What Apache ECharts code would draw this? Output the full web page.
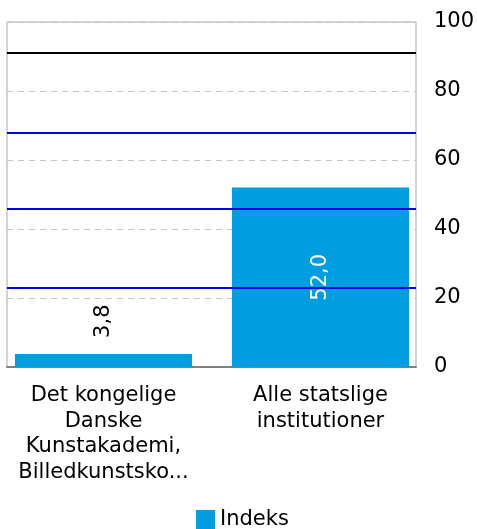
<!DOCTYPE html>
<html>
<head>
<meta charset="utf-8">
<script src="https://cdn.jsdelivr.net/npm/echarts@6/dist/echarts.min.js"></script>
<style>
  html, body { margin: 0; padding: 0; background: #fff; }
  #chart { width: 477px; height: 529px; }
</style>
</head>
<body>
<div id="chart"></div>
<script>
var categories = ['Det kongelige Danske Kunstakademi, Billedkunstskolerne', 'Alle statslige institutioner'];
var indeksValues = [3.8, 52.0];
var blueLines = [23, 46, 68];
var blackLine = [91];
var yTicks = [0, 20, 40, 60, 80, 100];

// wrap a category name into short lines, max 4 lines
function wrapLabel(text) {
  var words = text.split(' ');
  var lines = [];
  var cur = '';
  words.forEach(function(w) {
    if (cur && (cur + ' ' + w).length > 14) {
      lines.push(cur);
      cur = w;
    } else {
      cur = cur ? cur + ' ' + w : w;
    }
  });
  if (cur) lines.push(cur);
  lines = lines.slice(0, 4);
  lines = lines.map(function(l) {
    return l.length > 15 ? l.slice(0, 14) + '...' : l;
  });
  return lines.join('\n');
}

function fmt(v) {
  return v.toFixed(1).replace('.', ',');
}

var markData = [];
blueLines.forEach(function(v) {
  markData.push({ yAxis: v, lineStyle: { color: '#0000ee', width: 2, type: 'solid' } });
});
blackLine.forEach(function(v) {
  markData.push({ yAxis: v, lineStyle: { color: '#000', width: 2, type: 'solid' } });
});

var FS = 21;

var chart = echarts.init(document.getElementById('chart'));
chart.setOption({
  animation: false,
  textStyle: { fontFamily: 'DejaVu Sans' },
  grid: [{
    // bars
    left: -5,
    right: 48,
    top: 22,
    bottom: 162,
    outerBoundsMode: 'none',
    containLabel: false
  }, {
    // visible frame, y axis, reference lines
    left: 7,
    right: 61,
    top: 22,
    bottom: 162,
    outerBoundsMode: 'none',
    containLabel: false,
    show: true,
    borderColor: '#a8a8a8',
    borderWidth: 1
  }],
  legend: {
    left: 196,
    top: 509,
    padding: 0,
    itemWidth: 19,
    itemHeight: 19,
    itemGap: 5,
    icon: 'rect',
    textStyle: { fontSize: FS, color: '#000', fontFamily: 'DejaVu Sans' },
    data: ['Indeks']
  },
  xAxis: [{
    type: 'category',
    gridIndex: 0,
    data: categories,
    axisLine: { show: false },
    axisTick: { show: false },
    axisLabel: {
      fontSize: FS,
      lineHeight: 25.5,
      color: '#000',
      margin: 16,
      interval: 0,
      formatter: wrapLabel
    }
  }, {
    type: 'value',
    gridIndex: 1,
    min: 0,
    max: 1,
    axisLine: { onZero: false, lineStyle: { color: '#808080', width: 2 } },
    axisTick: { show: false },
    axisLabel: { show: false },
    splitLine: { show: false }
  }],
  yAxis: [{
    type: 'value',
    gridIndex: 0,
    min: 0,
    max: 100,
    show: false
  }, {
    type: 'value',
    gridIndex: 1,
    position: 'right',
    min: 0,
    max: 100,
    interval: 20,
    axisLine: { show: false },
    axisTick: { show: false },
    axisLabel: {
      fontSize: FS,
      color: '#000',
      margin: 18,
      formatter: function(v) { return yTicks.indexOf(v) >= 0 ? String(v) : ''; }
    },
    splitLine: { lineStyle: { color: '#c4c4c4', type: [6, 5] } }
  }],
  series: [{
    name: 'Indeks',
    type: 'bar',
    xAxisIndex: 0,
    yAxisIndex: 0,
    barCategoryGap: '18.4%',
    itemStyle: { color: '#009ee0' },
    data: indeksValues.map(function(v, i) {
      return {
        value: v,
        label: i === 0 ? {
          show: true, position: 'top', distance: 16, rotate: 90,
          align: 'left', verticalAlign: 'middle', color: '#000'
        } : {
          show: true, position: 'inside', rotate: 90,
          align: 'center', verticalAlign: 'middle', color: '#fff'
        }
      };
    }),
    label: {
      fontSize: FS,
      formatter: function(p) { return fmt(p.value); }
    }
  }, {
    name: 'lines',
    type: 'line',
    xAxisIndex: 1,
    yAxisIndex: 1,
    data: [],
    z: 5,
    markLine: {
      silent: true,
      symbol: 'none',
      label: { show: false },
      data: markData
    }
  }]
});

window.onresize = function() {
  chart.resize();
};
</script>
</body>
</html>
